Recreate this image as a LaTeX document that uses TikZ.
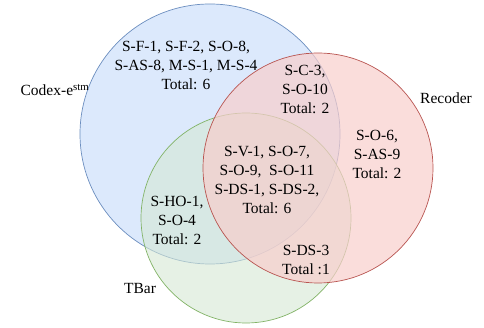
\documentclass[tikz,border=0pt]{standalone}
\usepackage{fontspec}
\setmainfont{Liberation Serif}
\definecolor{codexfill}{HTML}{DAE8FC}
\definecolor{codexline}{HTML}{6C8EBF}
\definecolor{recfill}{HTML}{F8CECC}
\definecolor{recline}{HTML}{B85450}
\definecolor{tbarfill}{HTML}{D5E8D4}
\definecolor{tbarline}{HTML}{82B366}
\tikzset{
  setcircle/.style={line width=0.7pt},
  setlist/.style={align=center, inner sep=0pt, font=\fontsize{15.5}{19}\selectfont},
  setname/.style={inner sep=0pt, font=\fontsize{15.5}{19}\selectfont}
}
\begin{document}
\begin{tikzpicture}[x=1pt, y=-1pt]
    \useasboundingbox (0,0) rectangle (484,328);

    % the three sets
    \coordinate (codex) at (210,134);
    \coordinate (rec) at (318,168);
    \coordinate (tbar) at (246,218);
    \draw[setcircle, draw=codexline, fill=codexfill, fill opacity=0.95] (codex) circle (130);
    \draw[setcircle, draw=tbarline, fill=tbarfill, fill opacity=0.6] (tbar) circle (105);
    \draw[setcircle, draw=recline, fill=recfill, fill opacity=0.7] (rec) circle (115);

    % set names
    \node[setname] (codexname) at (55,90) {Codex-e\textsuperscript{stm}};
    \node[setname] (recname) at (446,98) {Recoder};
    \node[setname] (tbarname) at (140,289) {TBar};

    % region contents
    \node[setlist] (onlycodex) at (186,65)
        {S-F-1, S-F-2, S-O-8,\\S-AS-8, M-S-1, M-S-4\\Total: 6};
    \node[setlist] (codexrec) at (305,89)
        {S-C-3,\\S-O-10\\Total: 2};
    \node[setlist] (onlyrec) at (377,154)
        {S-O-6,\\S-AS-9\\Total: 2};
    \node[setlist] (allthree) at (267,180)
        {S-V-1, S-O-7,\\S-O-9,\ \ S-O-11\\S-DS-1, S-DS-2,\\Total: 6};
    \node[setlist] (codextbar) at (177,220)
        {S-HO-1,\\S-O-4\\Total: 2};
    \node[setlist] (rectbar) at (306,260)
        {S-DS-3\\Total :1};
\end{tikzpicture}
\end{document}
